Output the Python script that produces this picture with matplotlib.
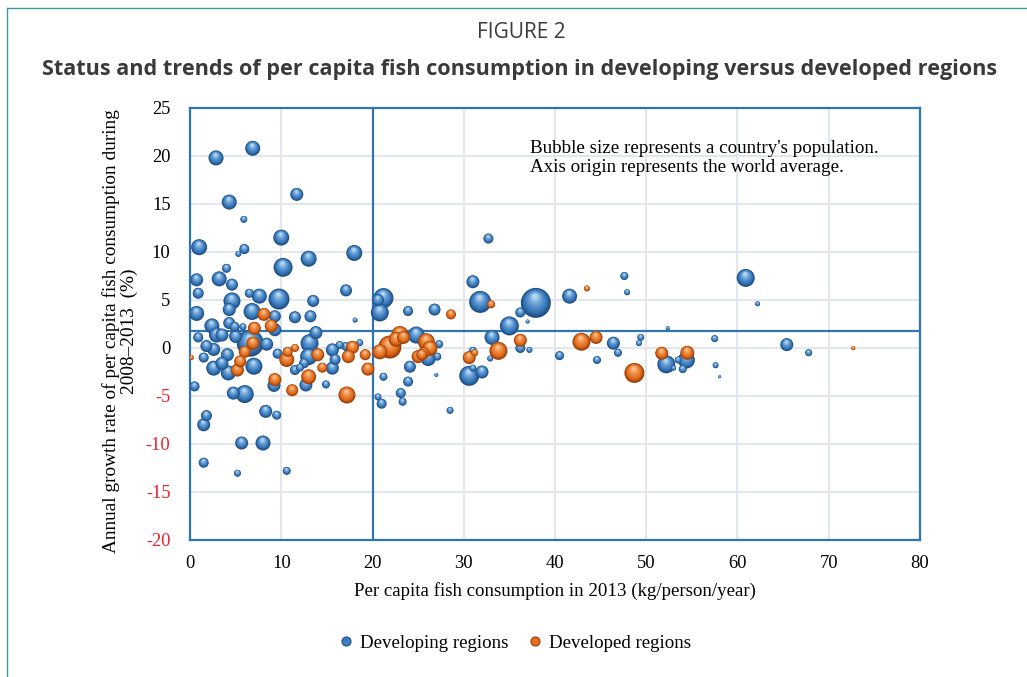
import matplotlib
matplotlib.use("Agg")
import matplotlib.pyplot as plt
import numpy as np
from matplotlib.path import Path
from matplotlib.collections import PathCollection
from matplotlib.lines import Line2D
from matplotlib.colors import to_rgb
from matplotlib.transforms import IdentityTransform

# ---------------- data ----------------
# Developing regions: per capita consumption 2013, annual growth 2008-2013, population (relative, millions)
dev_x = [2.85, 6.87, 4.3, 11.7, 5.9, 1.0, 10.0, 5.95, 5.3, 13.0, 18.0, 10.2, 4.0, 0.73, 3.2, 4.6,
         17.1, 6.5, 7.6, 9.75, 4.6, 0.9, 0.73, 4.3, 6.8, 2.4, 13.5, 11.5, 13.2, 18.1, 21.2, 20.6,
         20.8, 23.9, 26.8, 9.3, 4.9, 5.8, 9.3, 0.9, 2.9, 5.0, 6.6, 8.4, 1.8, 1.5, 2.6, 4.1,
         2.6, 4.2, 7.0, 9.6, 13.0, 11.5, 12.05, 9.2, 0.5, 4.75, 6.0, 8.3, 9.5, 1.8, 1.5, 5.66,
         8.0, 1.5, 5.2, 10.6, 12.7, 14.9, 15.6, 15.6, 13.1, 13.8, 16.4, 17.1, 18.6, 24.8, 21.2, 24.1,
         23.9, 23.1, 23.3, 20.6, 21.0, 27.0, 3.5, 4.3, 3.5, 31.0, 31.8, 37.9, 36.2, 37.0, 35.0, 41.6,
         47.9, 47.6, 33.1, 36.2, 37.2, 31.0, 32.9, 27.3, 27.1, 30.6, 32.0, 31.0, 28.5, 46.4, 46.9, 44.6,
         40.5, 60.9, 62.2, 52.35, 49.4, 49.2, 52.2, 53.5, 53.0, 54.4, 54.0, 57.5, 57.6, 58.05, 65.4, 67.8,
         32.7, 26.1, 33.6, 15.9, 12.5]
dev_y = [19.8, 20.8, 15.2, 16.0, 13.4, 10.5, 11.5, 10.3, 9.8, 9.3, 9.9, 8.4, 8.3, 7.1, 7.2, 6.6,
         6.0, 5.7, 5.4, 5.1, 4.9, 5.7, 3.6, 4.0, 3.8, 2.3, 4.9, 3.2, 3.3, 2.9, 5.2, 5.0,
         3.7, 3.85, 4.0, 3.3, 2.2, 2.2, 1.9, 1.1, 1.35, 1.2, 0.5, 0.4, 0.2, -1.0, -0.15, -0.7,
         -2.1, -2.6, -1.9, -0.6, -0.9, -2.3, -2.05, -3.9, -4.0, -4.7, -4.8, -6.6, -7.0, -7.05, -8.0, -9.9,
         -9.9, -11.95, -13.05, -12.8, -3.85, -3.8, -2.1, -0.2, 0.5, 1.6, 0.3, 0.15, 0.55, 1.35, -3.0, -1.95,
         -3.5, -4.7, -5.6, -5.1, -5.8, -2.8, 1.35, 2.6, -1.6, 6.9, 4.8, 4.7, 3.7, 2.75, 2.3, 5.4,
         5.8, 7.5, 1.1, 0.0, -0.2, -0.3, -1.1, 0.4, -0.9, -2.9, -2.5, -2.1, -6.5, 0.5, -0.5, -1.25,
         -0.8, 7.3, 4.6, 2.05, 1.1, 0.5, -1.7, -1.25, -2.1, -1.25, -2.2, 0.97, -1.8, -3.0, 0.35, -0.5,
         11.4, -1.1, -0.6, -1.2, -1.6]
dev_pop = [350, 350, 350, 263, 76, 398, 398, 156, 56, 398, 398, 562, 126, 263, 350, 224,
           224, 126, 350, 686, 450, 188, 350, 263, 450, 350, 224, 224, 224, 39, 622, 224,
           504, 156, 224, 224, 156, 76, 263, 156, 350, 263, 1134, 263, 224, 156, 263, 263,
           350, 350, 450, 156, 450, 156, 100, 263, 156, 263, 504, 263, 126, 188, 263, 263,
           350, 156, 76, 100, 263, 100, 263, 263, 504, 263, 100, 126, 76, 450, 100, 224,
           156, 156, 100, 76, 156, 25, 263, 224, 263, 263, 753, 1400, 156, 25, 562, 350,
           56, 100, 350, 156, 56, 100, 56, 100, 100, 622, 263, 76, 76, 263, 100, 100,
           126, 504, 39, 25, 76, 56, 504, 76, 39, 450, 100, 76, 56, 14, 263, 76,
           156, 350, 100, 188, 156]

# Developed regions
ded_x = [0.15, 8.1, 8.9, 7.05, 6.9, 6.0, 5.5, 5.2, 10.7, 11.5, 10.6, 13.0, 9.3, 11.2, 17.2, 19.5,
         14.5, 14.0, 17.8, 17.35, 19.2, 20.8, 21.9, 23.0, 25.9, 26.3, 25.0, 25.4, 33.0, 28.6, 43.5, 36.2,
         33.8, 30.6, 31.2, 42.9, 44.5, 48.7, 51.7, 54.5, 72.7, 25.6, 22.6, 23.4]
ded_y = [-1.0, 3.5, 2.3, 2.05, 0.5, -0.4, -1.4, -2.3, -0.4, 0.0, -1.2, -3.0, -3.3, -4.4, -4.9, -2.2,
         -2.05, -0.7, 0.07, -0.9, -0.7, -0.4, 0.1, 1.4, 0.65, -0.03, -0.9, -0.7, 4.55, 3.5, 6.2, 0.8,
         -0.3, -1.0, -0.5, 0.65, 1.1, -2.6, -0.55, -0.5, -0.03, -0.55, 0.9, 1.1]
ded_pop = [39, 263, 263, 263, 263, 224, 224, 263, 156, 100, 350, 350, 263, 224, 450, 263,
           156, 263, 263, 263, 188, 350, 823, 450, 450, 350, 263, 188, 100, 156, 56, 263,
           504, 263, 76, 504, 263, 622, 263, 305, 25, 224, 350, 263]

world_avg_x = 20.0
world_avg_y = 1.8

x_ticks = [0, 10, 20, 30, 40, 50, 60, 70, 80]
y_ticks = [-20, -15, -10, -5, 0, 5, 10, 15, 20, 25]

series_names = ["Developing regions", "Developed regions"]

# ---------------- styling ----------------
W, H = 1027, 677
fig = plt.figure(figsize=(W / 100, H / 100), dpi=100)
fig.patch.set_facecolor("white")

ax = fig.add_axes([190 / W, 1 - 540 / H, 730 / W, 432 / H])
ax.set_xlim(0, 80)
ax.set_ylim(-20, 25)
ax.set_xticks(x_ticks)
ax.set_yticks(y_ticks)
ax.grid(True, color="#dfe4ec", lw=1.3, zorder=0)
ax.set_axisbelow(True)
frame_blue = "#2e75b6"
for s in ax.spines.values():
    s.set_color(frame_blue)
    s.set_linewidth(1.6)
ax.tick_params(length=0, pad=11)
ax.tick_params(axis="y", pad=14)
serif = "Liberation Serif"
ax.set_xticklabels([str(v) for v in x_ticks], fontfamily=serif, fontsize=13.3)
ax.set_yticklabels([str(v) for v in y_ticks], fontfamily=serif, fontsize=13.3)
for lab, v in zip(ax.get_yticklabels(), y_ticks):
    lab.set_color("#e8202a" if v < 0 else "black")

ax.axvline(world_avg_x, color=frame_blue, lw=1.6, zorder=1)
ax.axhline(world_avg_y, color=frame_blue, lw=1.6, zorder=1)

# sphere-like bubbles
NL = 10
base = Path.unit_circle()
layer_paths = []
for k in range(NL):
    t = k / (NL - 1)
    r = 0.5 * (1 - 0.84 * t)
    c = np.array([-0.03 * t, 0.22 * t])
    layer_paths.append(Path(base.vertices * r + c, base.codes))


def layer_colors(dark, mid, light):
    d, m, l = (np.array(to_rgb(c)) for c in (dark, mid, light))
    cols = []
    for k in range(NL):
        t = k / (NL - 1)
        if t < 0.3:
            u = t / 0.3
            cols.append(tuple(d * (1 - u) + m * u) + (1.0,))
        else:
            u = ((t - 0.3) / 0.7) ** 1.3
            cols.append(tuple(m * (1 - u) + l * u) + (1.0,))
    return cols


def add_spheres(xs, ys, pops, cols, z):
    xs, ys, pops = map(np.asarray, (xs, ys, pops))
    diam_pt = 21.6 * np.sqrt(pops / 1400.0)
    order = np.argsort(-diam_pt, kind="stable")
    paths, sizes, fcs, offs = [], [], [], []
    for i in order:
        for k in range(NL):
            paths.append(layer_paths[k])
            sizes.append(diam_pt[i] ** 2)
            fcs.append(cols[k])
            offs.append((xs[i], ys[i]))
    coll = PathCollection(paths, sizes=sizes, facecolors=fcs, edgecolors="none",
                          offsets=offs, offset_transform=ax.transData,
                          transform=IdentityTransform(), zorder=z)
    ax.add_collection(coll)


blue_cols = layer_colors("#1f4e84", "#3c7dc0", "#b4d8f4")
orange_cols = layer_colors("#9c3e0a", "#e36f1e", "#fcc18c")
add_spheres(dev_x, dev_y, dev_pop, blue_cols, 3)
add_spheres(ded_x, ded_y, ded_pop, orange_cols, 4)
ax.set_xlim(0, 80)
ax.set_ylim(-20, 25)

# texts
sans = "Open Sans"
fig.text(521 / W, 1 - 33 / H, "FIGURE 2", ha="center", va="center",
         fontfamily=sans, fontsize=15, color="#3a3a3a")
fig.text(520 / W, 1 - 69 / H,
         "Status and trends of per capita fish consumption in developing versus developed regions",
         ha="center", va="center", fontfamily=sans, fontweight="bold", fontsize=15.6, color="#3a3a3a")

fig.text(530 / W, 1 - 158 / H,
         "Bubble size represents a country's population.\nAxis origin represents the world average.",
         ha="left", va="center", fontfamily=serif, fontsize=13.7, linespacing=1.2, color="black")

fig.text(555 / W, 1 - 591 / H, "Per capita fish consumption in 2013 (kg/person/year)",
         ha="center", va="center", fontfamily=serif, fontsize=13.6)
fig.text(120 / W, 1 - 331 / H,
         "Annual growth rate of per capita fish consumption during\n2008\u20132013  (%)",
         ha="center", va="center", rotation=90, fontfamily=serif, fontsize=13.9,
         multialignment="center", linespacing=1.1)

handles = [Line2D([], [], ls="none", marker="o", markersize=6.5, markerfacecolor="#3c7dc0",
                  markeredgecolor="#1f4e84", markeredgewidth=0.8),
           Line2D([], [], ls="none", marker="o", markersize=6.5, markerfacecolor="#e36f1e",
                  markeredgecolor="#9c3e0a", markeredgewidth=0.8)]
fig.legend(handles, series_names, loc="center", bbox_to_anchor=(514 / W, 1 - 643 / H),
           ncol=2, frameon=False, prop={"family": serif, "size": 13.6},
           handletextpad=0.25, columnspacing=0.9, handlelength=1.0)

# outer border (teal)
teal = "#3a9c9c"
fig.add_artist(Line2D([7 / W, 7 / W], [0, 1 - 8 / H], transform=fig.transFigure, color=teal, lw=1.0))
fig.add_artist(Line2D([7 / W, 1], [1 - 8 / H, 1 - 8 / H], transform=fig.transFigure, color=teal, lw=1.0))

fig.savefig("out.png", dpi=100, facecolor="white")
